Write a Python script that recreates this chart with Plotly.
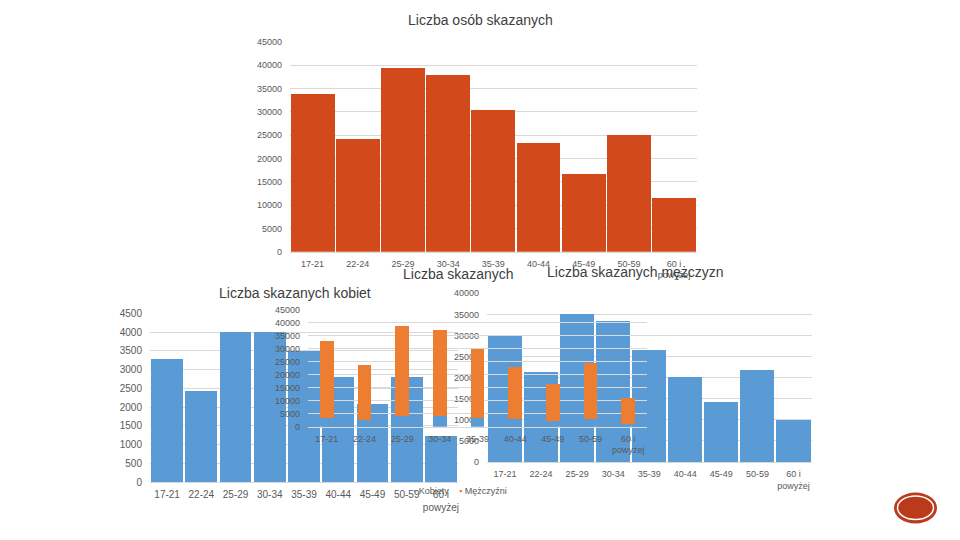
import plotly.graph_objects as go

# ---------------- data ----------------
categories = ["17-21", "22-24", "25-29", "30-34", "35-39", "40-44", "45-49", "50-59", "60 i powyżej"]
tick_labels = ["17-21", "22-24", "25-29", "30-34", "35-39", "40-44", "45-49", "50-59", "60 i<br>powyżej"]

total_convicted = [33800, 24100, 39300, 37900, 30400, 23300, 16700, 25000, 11600]
women_convicted = [3280, 2430, 4000, 4000, 3500, 2800, 2080, 2800, 1230]
men_convicted = [29900, 21300, 35000, 33400, 26600, 20200, 14200, 21800, 10000]

title_total = "Liczba osób skazanych"
title_women = "Liczba skazanych kobiet"
title_stacked = "Liczba skazanych"
title_men = "Liczba skazanych mężczyzn"
legend_women = "Kobiety"
legend_men = "Mężczyźni"

# ---------------- styling helpers ----------------
W, H = 960, 540
OFF = 8  # the page body has a default 8px margin
FONT = "Liberation Sans"
TXT = "#595959"
GRID = "#D9D9D9"
RED = "#D24A1B"
BLUE = "#5B9BD5"
ORANGE = "#ED7D31"


def px(x):
    return (x - OFF) / W


def py(y):
    return 1 - (y - OFF) / H


def dom_x(left, right):
    return [px(left), px(right)]


def dom_y(top, bottom):
    return [py(bottom), py(top)]


fig = go.Figure()

# 1) total (top chart)
fig.add_trace(go.Bar(x=categories, y=total_convicted, xaxis="x", yaxis="y",
                     marker=dict(color=RED, line=dict(width=0)), width=0.97,
                     name=title_total, showlegend=False))
# 2) women chart
fig.add_trace(go.Bar(x=categories, y=women_convicted, xaxis="x2", yaxis="y2",
                     marker=dict(color=BLUE, line=dict(width=0)), width=0.93,
                     name=title_women, showlegend=False))
# 3) men chart
fig.add_trace(go.Bar(x=categories, y=men_convicted, xaxis="x3", yaxis="y3",
                     marker=dict(color=BLUE, line=dict(width=0)), width=0.945,
                     name=title_men, showlegend=False))
# 4) stacked chart
fig.add_trace(go.Bar(x=categories, y=women_convicted, xaxis="x4", yaxis="y4",
                     marker=dict(color=BLUE, line=dict(width=0)), width=0.37,
                     name=legend_women, showlegend=False))
fig.add_trace(go.Bar(x=categories, y=men_convicted, xaxis="x4", yaxis="y4",
                     marker=dict(color=ORANGE, line=dict(width=0)), width=0.37,
                     name=legend_men, showlegend=False))


def xax(domain, anchor, size):
    return dict(domain=domain, anchor=anchor, type="category", automargin=False,
                categoryorder="array", categoryarray=categories,
                tickmode="array", tickvals=categories, ticktext=tick_labels,
                showgrid=False, zeroline=False, showline=True, linecolor=GRID,
                linewidth=1, ticks="", ticklabelstandoff=3,
                tickfont=dict(family=FONT, size=size, color=TXT), fixedrange=True)


def yax(domain, anchor, rng, dtick, size):
    return dict(domain=domain, anchor=anchor, range=rng, dtick=dtick, automargin=False,
                tick0=0, tickformat="d", showgrid=True, gridcolor=GRID, gridwidth=1,
                zeroline=False, showline=False, ticks="", ticklabelstandoff=7,
                tickfont=dict(family=FONT, size=size, color=TXT), fixedrange=True)


fig.update_layout(
    width=W, height=H,
    margin=dict(l=0, r=0, t=0, b=0, autoexpand=False),
    paper_bgcolor="white", plot_bgcolor="rgba(0,0,0,0)",
    barmode="stack", showlegend=False,
    font=dict(family=FONT, color=TXT),
    xaxis=xax(dom_x(290, 696.7), "y", 9),
    yaxis=yax(dom_y(41.7, 251.7), "x", [0, 45000], 5000, 9),
    xaxis2=xax(dom_x(150, 458), "y2", 10),
    yaxis2=yax(dom_y(313.3, 482), "x2", [0, 4500], 500, 10),
    xaxis3=xax(dom_x(487, 811.5), "y3", 9),
    yaxis3=yax(dom_y(293.3, 462), "x3", [0, 40000], 5000, 9),
    xaxis4=xax(dom_x(308, 647), "y4", 9),
    yaxis4=yax(dom_y(310, 426.7), "x4", [0, 45000], 5000, 9),
)

TITLE_C = "#404040"
annotations = [
    dict(text=title_total, x=480, y=20, size=14),
    dict(text=title_women, x=295, y=292.5, size=14),
    dict(text=title_stacked, x=458, y=274, size=14),
    dict(text=title_men, x=635, y=272, size=14),
]
ann_list = []
for a in annotations:
    ann_list.append(dict(text=a["text"], x=px(a["x"]), y=py(a["y"]), xref="paper", yref="paper",
                         xanchor="center", yanchor="middle", showarrow=False,
                         font=dict(family=FONT, size=a["size"], color=TITLE_C)))
# legend of the stacked chart (drawn as text)
ann_list.append(dict(text="<span style='color:%s'>▪</span> %s" % (BLUE, legend_women),
                     x=px(411), y=py(491), xref="paper", yref="paper",
                     xanchor="left", yanchor="middle", showarrow=False,
                     font=dict(family=FONT, size=9, color=TXT)))
ann_list.append(dict(text="<span style='color:%s'>▪</span> %s" % (ORANGE, legend_men),
                     x=px(457), y=py(491), xref="paper", yref="paper",
                     xanchor="left", yanchor="middle", showarrow=False,
                     font=dict(family=FONT, size=9, color=TXT)))
fig.update_layout(annotations=ann_list)

# decorative badge (bottom right)
fig.add_shape(type="circle", xref="paper", yref="paper",
              x0=px(894), x1=px(937), y0=py(523.5), y1=py(492.5),
              fillcolor="#BC3A1C", line=dict(width=0), layer="above")
fig.add_shape(type="circle", xref="paper", yref="paper",
              x0=px(897.5), x1=px(933.5), y0=py(519.5), y1=py(496),
              fillcolor="#BC3A1C", line=dict(width=1.5, color="white"), layer="above")

fig.write_html("out.html")
